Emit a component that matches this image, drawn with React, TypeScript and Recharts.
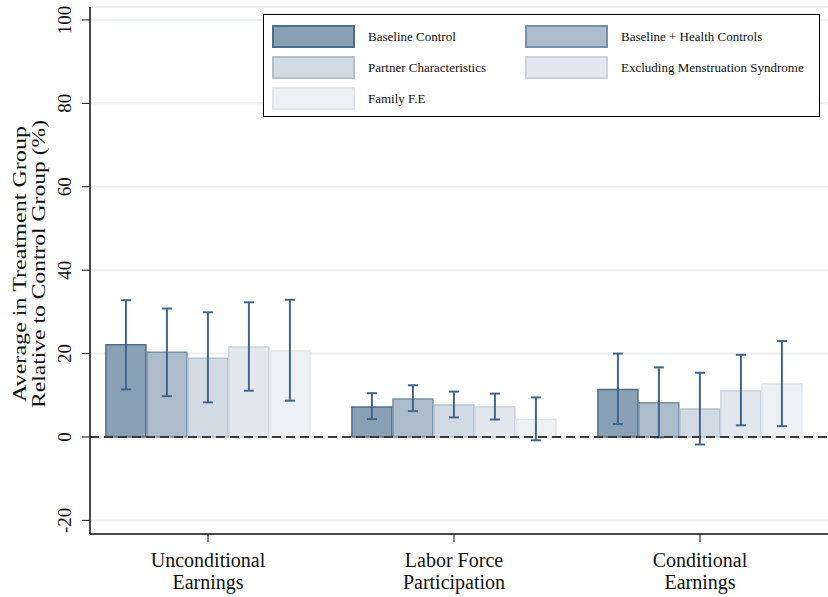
import React from "react";
import {
  BarChart,
  Bar,
  XAxis,
  YAxis,
  CartesianGrid,
  ReferenceLine,
  ErrorBar,
  Legend,
  Label,
} from "recharts";

// outcome categories (each label split in two lines)
const categories = [
  ["Unconditional", "Earnings"],
  ["Labor Force", "Participation"],
  ["Conditional", "Earnings"],
];

const seriesNames = [
  "Baseline Control",
  "Baseline + Health Controls",
  "Partner Characteristics",
  "Excluding Menstruation Syndrome",
  "Family F.E",
];

// point estimates per series, one value per category
const baseline = [22.1, 7.2, 11.4];
const health = [20.3, 9.1, 8.2];
const partner = [18.9, 7.7, 6.7];
const menstruation = [21.6, 7.2, 11.0];
const familyFE = [20.6, 4.2, 12.7];

// confidence interval bounds
const baselineLo = [11.4, 4.3, 3.1];
const baselineHi = [32.8, 10.5, 20.0];
const healthLo = [9.8, 6.2, -0.1];
const healthHi = [30.8, 12.4, 16.7];
const partnerLo = [8.3, 4.7, -1.8];
const partnerHi = [29.9, 10.9, 15.4];
const menstruationLo = [11.1, 4.2, 2.8];
const menstruationHi = [32.3, 10.4, 19.7];
const familyLo = [8.7, -0.8, 2.6];
const familyHi = [32.9, 9.5, 23.0];

const yTicks = [-20, 0, 20, 40, 60, 80, 100];

const fills = ["#8aa0b5", "#adbccb", "#d2dae3", "#e2e8ed", "#edf1f4"];
const strokes = ["#4f6e8d", "#7590a9", "#b2c1cf", "#cbd5df", "#dfe5eb"];
const errColor = "#41668b";
const serif = "'Liberation Serif', 'Times New Roman', serif";

const values = [baseline, health, partner, menstruation, familyFE];
const lows = [baselineLo, healthLo, partnerLo, menstruationLo, familyLo];
const highs = [baselineHi, healthHi, partnerHi, menstruationHi, familyHi];

const data = categories.map((c, i) => {
  const row: Record<string, any> = { name: c.join(" "), lines: c };
  values.forEach((v, s) => {
    row["v" + s] = v[i];
    row["e" + s] = [v[i] - lows[s][i], highs[s][i] - v[i]];
  });
  return row;
});

const XTick = (props: any) => {
  const { x, payload } = props;
  const cat = categories.find((c) => c.join(" ") === payload.value) || [];
  return (
    <g>
      {cat.map((line, k) => (
        <text
          key={k}
          x={x}
          y={567 + k * 22}
          textAnchor="middle"
          fontFamily={serif}
          fontSize={20}
          fill="#111"
        >
          {line}
        </text>
      ))}
    </g>
  );
};

const YTick = (props: any) => {
  const { y, payload } = props;
  return (
    <text
      x={71}
      y={y}
      transform={`rotate(-90, 71, ${y})`}
      textAnchor="middle"
      fontFamily={serif}
      fontSize={19}
      fill="#111"
    >
      {payload.value}
    </text>
  );
};

const YTitle = () => (
  <g fontFamily={serif} fontSize={19} fill="#111">
    <text
      x={26}
      y={264}
      transform="rotate(-90, 26, 264)"
      textAnchor="middle"
      textLength={276}
      lengthAdjust="spacingAndGlyphs"
    >
      Average in Treatment Group
    </text>
    <text
      x={45}
      y={264}
      transform="rotate(-90, 45, 264)"
      textAnchor="middle"
      textLength={288}
      lengthAdjust="spacingAndGlyphs"
    >
      Relative to Control Group (%)
    </text>
  </g>
);

const LegendBox = () => {
  const pos = [
    [0, 0],
    [1, 0],
    [0, 1],
    [1, 1],
    [0, 2],
  ];
  return (
    <div
      style={{
        position: "relative",
        width: 555,
        height: 101,
        border: "1px solid #000",
        background: "#fff",
        fontFamily: serif,
        fontSize: 13,
        color: "#111",
      }}
    >
      {seriesNames.map((n, i) => {
        const [col, row] = pos[i];
        const left = 8 + col * 253;
        const top = 10 + row * 31;
        return (
          <React.Fragment key={n}>
            <div
              style={{
                position: "absolute",
                left,
                top,
                width: 79,
                height: 19,
                background: fills[i],
                border: `2px solid ${strokes[i]}`,
              }}
            />
            <div
              style={{
                position: "absolute",
                left: left + 96,
                top: top + 5,
                whiteSpace: "nowrap",
                lineHeight: "14px",
              }}
            >
              {n}
            </div>
          </React.Fragment>
        );
      })}
    </div>
  );
};

export default function App() {
  return (
    <div style={{ position: "absolute", left: 0, top: 0, background: "#fff" }}>
      <BarChart
        width={828}
        height={597}
        data={data}
        margin={{ top: 7, right: 0, bottom: 0, left: 0 }}
        barCategoryGap="8.5%"
        barGap={1}
      >
        <CartesianGrid vertical={false} stroke="#e9eef2" strokeWidth={2} />
        <XAxis
          dataKey="name"
          height={63}
          padding={{ left: -5, right: 5 }}
          tick={<XTick />}
          tickSize={8}
          tickLine={{ stroke: "#111" }}
          axisLine={{ stroke: "#111", strokeWidth: 1.5 }}
          interval={0}
        />
        <YAxis
          width={90}
          domain={[-23.26, 103.1]}
          ticks={yTicks}
          tick={<YTick />}
          tickSize={8}
          tickLine={{ stroke: "#111" }}
          axisLine={{ stroke: "#111", strokeWidth: 1.5 }}
          allowDataOverflow
        >
          <Label content={<YTitle />} />
        </YAxis>
        <Legend
          content={<LegendBox />}
          layout="horizontal"
          verticalAlign="middle"
          align="center"
          wrapperStyle={{ position: "absolute", left: 263, top: 14, width: 557 }}
        />
        {seriesNames.map((n, s) => (
          <Bar
            key={n}
            name={n}
            dataKey={"v" + s}
            fill={fills[s]}
            stroke={strokes[s]}
            strokeWidth={1.5}
            isAnimationActive={false}
          >
            <ErrorBar
              dataKey={"e" + s}
              width={5}
              stroke={errColor}
              strokeWidth={2}
              direction="y"
            />
          </Bar>
        ))}
        <ReferenceLine y={0} stroke="#3a3a3a" strokeWidth={2} strokeDasharray="9 5" />
      </BarChart>
    </div>
  );
}
